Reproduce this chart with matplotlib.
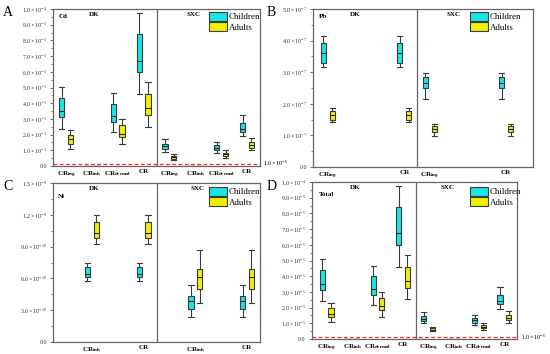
import matplotlib
matplotlib.use("Agg")
import matplotlib.pyplot as plt
from matplotlib.patches import Patch
from matplotlib.ticker import FixedLocator, MultipleLocator

plt.rcParams['font.family'] = ['Liberation Serif', 'DejaVu Serif']
plt.rcParams['mathtext.fontset'] = 'custom'
plt.rcParams['mathtext.rm'] = 'Liberation Serif'
plt.rcParams['mathtext.it'] = 'Liberation Serif:italic'
plt.rcParams['mathtext.bf'] = 'Liberation Serif:bold'

# ---------------- data (whislo, q1, median, q3, whishi) ----------------
# Cd (units of 1e-5)
cd_groups = ["CR_ing", "CR_inh", "CR_dermal", "CR", "CR_ing", "CR_inh", "CR_dermal", "CR"]
cd_children = [
    [2.38, 3.09, 3.51, 4.36, 5.06],
    [0.002, 0.004, 0.005, 0.006, 0.008],
    [2.17, 2.83, 3.19, 3.98, 4.64],
    [4.57, 5.96, 6.70, 8.40, 9.72],
    [0.91, 1.11, 1.26, 1.43, 1.70],
    [0.001, 0.002, 0.003, 0.004, 0.005],
    [0.85, 1.02, 1.17, 1.32, 1.55],
    [1.91, 2.19, 2.38, 2.77, 3.26],
]
cd_adults = [
    [1.09, 1.38, 1.70, 1.96, 2.28],
    [0.001, 0.002, 0.003, 0.004, 0.005],
    [1.38, 1.85, 2.06, 2.60, 3.02],
    [2.49, 3.26, 3.72, 4.57, 5.36],
    [0.40, 0.47, 0.57, 0.66, 0.74],
    [0.001, 0.002, 0.002, 0.003, 0.004],
    [0.53, 0.64, 0.74, 0.85, 1.00],
    [1.00, 1.17, 1.34, 1.53, 1.81],
]
# Total (units of 1e-5)
total_children = [
    [2.40, 3.12, 3.52, 4.40, 5.10],
    [0.002, 0.004, 0.005, 0.006, 0.008],
    [2.19, 2.83, 3.21, 4.00, 4.64],
    [4.60, 5.98, 6.75, 8.40, 9.72],
    [1.02, 1.15, 1.29, 1.45, 1.72],
    [0.001, 0.002, 0.003, 0.004, 0.005],
    [0.92, 1.05, 1.18, 1.33, 1.55],
    [1.93, 2.22, 2.40, 2.78, 3.30],
]
total_adults = [
    [1.11, 1.41, 1.62, 1.98, 2.30],
    [0.001, 0.002, 0.003, 0.004, 0.005],
    [1.43, 1.87, 2.09, 2.62, 3.02],
    [2.53, 3.28, 3.70, 4.60, 5.35],
    [0.48, 0.53, 0.60, 0.68, 0.76],
    [0.001, 0.002, 0.002, 0.003, 0.004],
    [0.60, 0.68, 0.76, 0.86, 1.02],
    [1.05, 1.20, 1.36, 1.55, 1.80],
]
# Pb (units of 1e-7)
pb_groups = ["CR_ing", "CR", "CR_ing", "CR"]
pb_children = [
    [3.18, 3.29, 3.61, 3.93, 4.13],
    [3.18, 3.29, 3.61, 3.93, 4.13],
    [2.14, 2.51, 2.65, 2.84, 2.96],
    [2.14, 2.51, 2.65, 2.84, 2.96],
]
pb_adults = [
    [1.43, 1.50, 1.64, 1.78, 1.87],
    [1.43, 1.50, 1.64, 1.78, 1.87],
    [0.98, 1.12, 1.21, 1.30, 1.36],
    [0.98, 1.12, 1.21, 1.30, 1.36],
]
# Ni (units of 1e-10)
ni_groups = ["CR_inh", "CR", "CR_inh", "CR"]
ni_children = [
    [5.74, 6.15, 6.40, 7.10, 7.47],
    [5.74, 6.15, 6.40, 7.10, 7.47],
    [2.37, 3.09, 3.85, 4.32, 5.36],
    [2.37, 3.09, 3.85, 4.32, 5.36],
]
ni_adults = [
    [9.24, 9.78, 10.25, 11.36, 12.00],
    [9.24, 9.78, 10.25, 11.36, 12.00],
    [3.72, 4.98, 6.09, 6.88, 8.68],
    [3.72, 4.98, 6.09, 6.88, 8.68],
]

LABELS = {
    "CR_ing": r"CR$_{\mathbf{ing}}$",
    "CR_inh": r"CR$_{\mathbf{inh}}$",
    "CR_dermal": r"CR$_{\mathbf{dermal}}$",
    "CR": "CR",
}

W, H = 550, 354
fig = plt.figure(figsize=(W / 100, H / 100), dpi=100)


def make_ax(l, t, r, b):
    return fig.add_axes([l / W, 1 - b / H, (r - l) / W, (b - t) / H])


CYAN = "#19E6E6"
YELLOW = "#F0F000"
EDGE = "#3a3a3a"


def draw_boxes(ax, positions, data, scale, color):
    stats = []
    for d in data:
        lo, q1, med, q3, hi = [v * scale for v in d]
        stats.append(dict(whislo=lo, q1=q1, med=med, q3=q3, whishi=hi, fliers=[]))
    ax.bxp(stats, positions=positions, widths=0.2, patch_artist=True,
           showfliers=False, manage_ticks=False,
           boxprops=dict(facecolor=color, edgecolor=EDGE, linewidth=0.8),
           medianprops=dict(color="#222222", linewidth=0.8),
           whiskerprops=dict(color=EDGE, linewidth=0.8),
           capprops=dict(color=EDGE, linewidth=0.8), capwidths=0.2)


def setup(ax, positions, groups, scale, nticks, step, fmt, xlim, divider,
          element, el_xy, dk_x, sxc_x):
    ax.set_xlim(*xlim)
    ax.set_ylim(0, nticks * step * scale)
    ax.set_xticks(positions)
    ax.set_xticklabels([LABELS[g] for g in groups], fontsize=5, fontweight="bold")
    ax.tick_params(axis="x", length=0, pad=2.5)
    yt = [i * step * scale for i in range(nticks + 1)]
    ax.yaxis.set_major_locator(FixedLocator(yt))
    ax.yaxis.set_minor_locator(MultipleLocator(step * scale / 2))
    ax.set_yticklabels(["0.0"] + [fmt(i * step) for i in range(1, nticks + 1)],
                       fontsize=4.3, color="#333333")
    ax.tick_params(axis="y", length=2.5, width=0.6, color="#555555", pad=2)
    ax.tick_params(axis="y", which="minor", length=1.5, width=0.5, color="#555555")
    for s in ax.spines.values():
        s.set_color("#666666")
        s.set_linewidth(0.9)
    ax.axvline(divider, color="#666666", linewidth=0.9)
    ax.text(el_xy[0], el_xy[1], element, transform=ax.transAxes, fontsize=5,
            fontweight="bold", ha="center", va="center")
    ax.text(dk_x, 0.965, "DK", transform=ax.transAxes, fontsize=5,
            fontweight="bold", ha="center", va="center")
    ax.text(sxc_x, 0.965, "SXC", transform=ax.transAxes, fontsize=5,
            fontweight="bold", ha="center", va="center")


def sci(mant, exp):
    return r"$%.1f\times10^{%d}$" % (mant, exp)


def fmt_e5(v):
    v = round(v, 6)
    if abs(v - 10) < 1e-6:
        return sci(1.0, -4)
    return sci(v, -5)


def fmt_e7(v):
    return sci(round(v, 6), -7)


def fmt_ni(v):
    v = round(v, 6)
    if v >= 10:
        return sci(v / 10, -9)
    return sci(v, -10)


def add_legend(ax, x, y):
    handles = [Patch(facecolor=CYAN, edgecolor=EDGE, linewidth=0.8, label="Children"),
               Patch(facecolor=YELLOW, edgecolor=EDGE, linewidth=0.8, label="Adults")]
    ax.legend(handles=handles, loc="upper left",
              bbox_to_anchor=(x / W, 1 - y / H), bbox_transform=fig.transFigure,
              frameon=False, fontsize=6.4, handlelength=2.0, handleheight=1.15,
              handletextpad=0.25, labelspacing=0.08, borderpad=0, borderaxespad=0)


off = 0.17
# ---- Panel A: Cd ----
axA = make_ax(53, 9, 260, 166)
posA = list(range(1, 9))
draw_boxes(axA, [p - off for p in posA], cd_children, 1e-5, CYAN)
draw_boxes(axA, [p + off for p in posA], cd_adults, 1e-5, YELLOW)
setup(axA, posA, cd_groups, 1e-5, 10, 1.0, fmt_e5, (0.5, 8.5), 4.5,
      "Cd", (0.05, 0.955), 0.2, 0.68)
axA.axhline(1e-6, color="#E83030", linestyle=(0, (3, 2)), linewidth=0.9)
fig.text(263 / W, 1 - 163 / H, r"$1.0\times10^{-6}$", fontsize=4.3, va="center", ha="left")
add_legend(axA, 209, 12)

# ---- Panel B: Pb ----
axB = make_ax(313, 9, 533, 167)
posB = [1, 4, 5, 8]
draw_boxes(axB, [p - off for p in posB], pb_children, 1e-7, CYAN)
draw_boxes(axB, [p + off for p in posB], pb_adults, 1e-7, YELLOW)
setup(axB, posB, pb_groups, 1e-7, 5, 1.0, fmt_e7, (0.42, 9.05), 4.5,
      "Pb", (0.045, 0.955), 0.19, 0.64)
add_legend(axB, 470, 12)

# ---- Panel C: Ni ----
axC = make_ax(53, 183, 260, 342)
posC = [2, 4, 6, 8]
draw_boxes(axC, [p - off for p in posC], ni_children, 1e-10, CYAN)
draw_boxes(axC, [p + off for p in posC], ni_adults, 1e-10, YELLOW)
setup(axC, posC, ni_groups, 1e-10, 5, 3.0, fmt_ni, (0.5, 8.5), 4.5,
      "Ni", (0.04, 0.915), 0.2, 0.70)
add_legend(axC, 209, 187)

# ---- Panel D: Total ----
axD = make_ax(312, 182, 517, 339)
posD = list(range(1, 9))
draw_boxes(axD, [p - off for p in posD], total_children, 1e-5, CYAN)
draw_boxes(axD, [p + off for p in posD], total_adults, 1e-5, YELLOW)
setup(axD, posD, cd_groups, 1e-5, 10, 1.0, fmt_e5, (0.42, 8.5), 4.5,
      "Total", (0.07, 0.92), 0.21, 0.66)
axD.axhline(1e-6, color="#E83030", linestyle=(0, (3, 2)), linewidth=0.9)
fig.text(521 / W, 1 - 337 / H, r"$1.0\times10^{-6}$", fontsize=4.3, va="center", ha="left")
add_legend(axD, 470, 187)

# panel letters
for letter, x, y in [("A", 3, 13), ("B", 267, 13), ("C", 3, 186), ("D", 267, 186)]:
    fig.text(x / W, 1 - y / H, letter, fontsize=10, ha="left", va="center")

fig.savefig("out.png", dpi=100)
